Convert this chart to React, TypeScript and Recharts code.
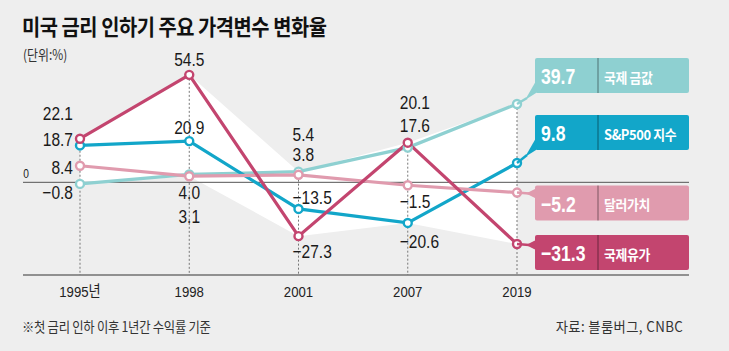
import {
  Area,
  ComposedChart,
  LabelList,
  Line,
  ReferenceLine,
  XAxis,
  YAxis,
} from "recharts";

const years = ["1995년", "1998", "2001", "2007", "2019"];
const oil = [22.1, 54.5, -27.3, 20.1, -31.3];
const sp500 = [18.7, 20.9, -13.5, -20.6, 9.8];
const gold = [-0.8, 4.0, 5.4, 17.6, 39.7];
const dollar = [8.4, 3.1, 3.8, -1.5, -5.2];

const NUM_FONT = "'Liberation Sans', Arial, 'Noto Sans CJK KR', sans-serif";
const KR_FONT = "'Noto Sans CJK KR', 'Noto Sans', sans-serif";

// label placement for points 0..3: [anchor, dx, dy]; last point gets a box
type Place = [string, number, number];

const series = [
  {
    key: "gold",
    name: "국제 금값",
    color: "#8ed0d1",
    places: [["end", -7, 9], ["middle", 0, 19], ["start", -6, -37], ["start", -8, -22]] as Place[],
    boxTop: -46,
    tail: "diag",
  },
  {
    key: "sp500",
    name: "S&P500 지수",
    color: "#12a6c9",
    places: [["end", -7, -5], ["middle", 0, -13], ["start", -6, -11], ["start", -8, 19]] as Place[],
    boxTop: -48,
    tail: "diag",
  },
  {
    key: "dollar",
    name: "달러가치",
    color: "#e09bae",
    places: [["end", -7, 2], ["middle", 0, 41], ["start", -6, -20], ["start", -8, 17]] as Place[],
    boxTop: -7,
    tail: "flat",
  },
  {
    key: "oil",
    name: "국제유가",
    color: "#c3456f",
    places: [["end", -7, -25], ["middle", 0, -15], ["start", -6, 16], ["start", -8, -40]] as Place[],
    boxTop: -9,
    tail: "flat",
  },
];

const data = years.map((year, i) => {
  const vals = [oil[i], sp500[i], gold[i], dollar[i]];
  return {
    year,
    oil: oil[i],
    sp500: sp500[i],
    gold: gold[i],
    dollar: dollar[i],
    range: [Math.min(...vals), Math.max(...vals)],
  };
});

const Y_MIN = -47;
const Y_MAX = 60;

const fmt = (v: number) => (v < 0 ? "−" + Math.abs(v).toFixed(1) : v.toFixed(1));

// condensed svg text: scale horizontally around the anchor point
function NText({ x, y, sx = 0.8, children, ...rest }: any) {
  return (
    <text
      transform={`translate(${x},${y}) scale(${sx},1)`}
      x={0}
      y={0}
      dominantBaseline="central"
      {...rest}
    >
      {children}
    </text>
  );
}

function makeLabel(s: (typeof series)[number]) {
  return (props: any) => {
    const { x, y, value, index } = props;
    if (index < 4) {
      const [anchor, dx, dy] = s.places[index];
      return (
        <NText
          x={x + dx}
          y={y + dy}
          sx={0.84}
          textAnchor={anchor}
          fontFamily={NUM_FONT}
          fontSize={18.5}
          fill="#1a1a1a"
        >
          {fmt(value)}
        </NText>
      );
    }
    const h = 35;
    const bx = x + 18;
    const by = y + s.boxTop;
    const bw = 154;
    return (
      <g>
        {s.tail === "diag" ? (
          <g>
            <line x1={x} y1={y} x2={bx - 8} y2={by + h + 5} stroke={s.color} strokeWidth={2.5} />
            <polygon
              points={`${bx + 1},${by + h - 12} ${bx + 1},${by + h} ${bx - 10},${by + h + 7}`}
              fill={s.color}
            />
          </g>
        ) : (
          <g>
            <line x1={x} y1={y} x2={bx - 6} y2={y + 1} stroke={s.color} strokeWidth={2.5} />
            <polygon
              points={`${bx - 9},${y + 1} ${bx + 1},${y - 4} ${bx + 1},${y + 6}`}
              fill={s.color}
            />
          </g>
        )}
        <rect x={bx} y={by} width={bw} height={h} rx={2} fill={s.color} />
        <line x1={bx + 63} y1={by} x2={bx + 63} y2={by + h} stroke="rgba(0,0,0,0.3)" strokeWidth={1.5} />
        <NText
          x={bx + 6}
          y={by + h / 2 + 1}
          sx={0.8}
          fontFamily={NUM_FONT}
          fontWeight="bold"
          fontSize={22}
          fill="#fff"
        >
          {fmt(value)}
        </NText>
        <NText
          x={bx + 69}
          y={by + h / 2 + 1}
          sx={0.92}
          fontFamily={KR_FONT}
          fontWeight="bold"
          fontSize={14}
          letterSpacing={-0.4}
          fill="#fff"
        >
          {s.name}
        </NText>
      </g>
    );
  };
}

function YearTick({ x, y, payload }: any) {
  return (
    <NText
      x={x}
      y={y + 9}
      sx={0.85}
      textAnchor="middle"
      fontFamily={NUM_FONT}
      fontSize={15.5}
      fill="#222"
    >
      {payload.value}
    </NText>
  );
}

const squeeze = (sx: number, origin: string) => ({
  display: "inline-block",
  transform: `scaleX(${sx})`,
  transformOrigin: origin,
  whiteSpace: "nowrap" as const,
});

export default function App() {
  return (
    <div
      style={{
        position: "relative",
        width: 729,
        height: 351,
        background: "#eeeeee",
        overflow: "hidden",
      }}
    >
      <style>{`body{margin:0}`}</style>
      <div
        style={{
          position: "absolute",
          left: 22,
          top: 9,
          fontFamily: KR_FONT,
          fontWeight: "bold",
          fontSize: 22,
          letterSpacing: -0.5,
          color: "#111",
          whiteSpace: "nowrap",
        }}
      >
        <span style={squeeze(0.9, "left center")}>미국 금리 인하기 주요 가격변수 변화율</span>
      </div>
      <div
        style={{
          position: "absolute",
          left: 23,
          top: 44,
          fontFamily: KR_FONT,
          fontSize: 14,
          color: "#333",
        }}
      >
        <span style={squeeze(0.85, "left center")}>(단위:%)</span>
      </div>
      <div style={{ position: "absolute", left: 0, top: 0 }}>
        <ComposedChart
          width={729}
          height={351}
          data={data}
          margin={{ top: 64, right: 40, bottom: 46, left: 23 }}
        >
          <XAxis
            dataKey="year"
            scale="point"
            padding={{ left: 57, right: 172 }}
            axisLine={{ stroke: "#333", strokeWidth: 1.2 }}
            tickLine={false}
            tick={<YearTick />}
          />
          <YAxis hide type="number" domain={[Y_MIN, Y_MAX]} allowDataOverflow />
          <Area
            dataKey="range"
            type="linear"
            stroke="none"
            fill="#ffffff"
            fillOpacity={1}
            isAnimationActive={false}
            dot={false}
            activeDot={false}
          />
          {data.map((d) => (
            <ReferenceLine
              key={d.year}
              segment={[
                { x: d.year, y: d.range[1] },
                { x: d.year, y: Y_MIN },
              ]}
              stroke="#777"
              strokeDasharray="2 2"
              strokeWidth={1}
            />
          ))}
          <ReferenceLine
            y={0}
            stroke="#555"
            strokeWidth={1}
            label={(p: any) => (
              <NText
                x={p.viewBox.x + 3}
                y={p.viewBox.y - 9}
                sx={0.85}
                textAnchor="middle"
                fontFamily={NUM_FONT}
                fontSize={12}
                fill="#222"
              >
                0
              </NText>
            )}
          />
          {series.map((s) => (
            <Line
              key={s.key}
              dataKey={s.key}
              type="linear"
              stroke={s.color}
              strokeWidth={3.2}
              dot={{ r: 4, fill: "#fff", stroke: s.color, strokeWidth: 2.4 }}
              activeDot={false}
              isAnimationActive={false}
            >
              <LabelList dataKey={s.key} content={makeLabel(s)} />
            </Line>
          ))}
        </ComposedChart>
      </div>
      <div
        style={{
          position: "absolute",
          left: 22,
          top: 316,
          fontFamily: KR_FONT,
          fontSize: 14,
          letterSpacing: -0.3,
          color: "#333",
        }}
      >
        <span style={squeeze(0.88, "left center")}>※첫 금리 인하 이후 1년간 수익률 기준</span>
      </div>
      <div
        style={{
          position: "absolute",
          right: 46,
          top: 316,
          fontFamily: KR_FONT,
          fontSize: 14,
          letterSpacing: 0.4,
          color: "#333",
        }}
      >
        <span style={squeeze(0.95, "right center")}>자료: 블룸버그, CNBC</span>
      </div>
    </div>
  );
}
